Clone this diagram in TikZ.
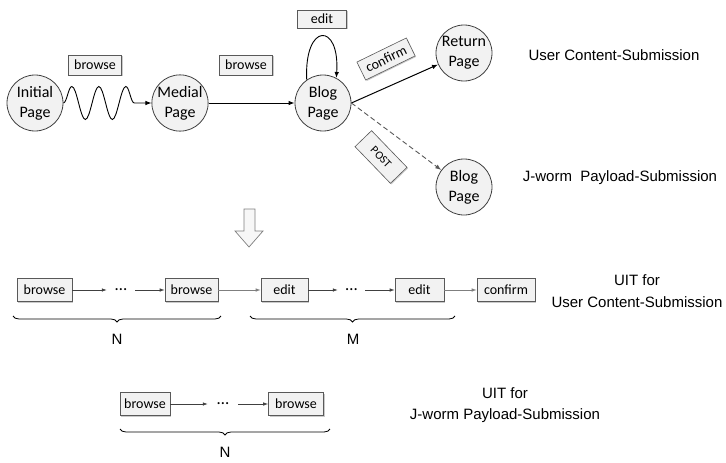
\documentclass[tikz,border=0pt]{standalone}
\usepackage{fontspec}
\setmainfont{Carlito}
\newfontfamily\arialfont{Liberation Sans}
\usetikzlibrary{arrows.meta,decorations.pathmorphing,decorations.pathreplacing,shadows}

\definecolor{pagefill}{HTML}{F2F2F2}
\definecolor{pageline}{HTML}{404040}
\definecolor{tagline}{HTML}{595959}
\definecolor{thinline}{HTML}{7F7F7F}

\begin{document}
\begin{tikzpicture}[x=1pt,y=-1pt,
  page/.style={circle, draw=pageline, fill=pagefill, line width=0.8pt,
    minimum size=56pt, inner sep=0pt, align=center,
    font=\fontsize{16}{20}\selectfont},
  tag/.style={draw=tagline, fill=pagefill, line width=0.6pt, inner sep=0pt,
    minimum height=20pt, font=\fontsize{14}{16}\selectfont,
    drop shadow={shadow xshift=1pt, shadow yshift=-1pt, opacity=0.35, fill=black!60}},
  stepbox/.style={tag, minimum height=23pt},
  gap/.style={inner sep=0pt, minimum height=12pt, font=\fontsize{17}{17}\selectfont},
  sidetext/.style={font=\arialfont\fontsize{15}{21.5}\selectfont, align=center},
  tip/.style={-{Latex[length=6pt,width=4.5pt]}},
  smalltip/.style={-{Latex[length=5pt,width=3.5pt]}},
  bigbrace/.style={decorate, decoration={brace, amplitude=6pt, mirror}, line width=0.8pt}
]
\useasboundingbox (0,0) rectangle (726,463);

% --- page transition graph ---
\node[page] (init)   at (35,103)  {Initial\\Page};
\node[page] (medial) at (180,103) {Medial\\Page};
\node[page] (blog)   at (323,103) {Blog\\Page};
\node[page] (ret)    at (464,53)  {Return\\Page};
\node[page] (blog2)  at (464,187) {Blog\\Page};

\node[tag, minimum width=53pt] (tb1) at (95,65)  {browse};
\node[tag, minimum width=53pt] (tb2) at (246,65) {browse};
\node[tag, minimum width=49pt, minimum height=18pt] (ted) at (322,19) {edit};
\node[tag, minimum width=55pt, rotate=26] (tcf) at (386,59) {confirm};
\node[tag, minimum width=51pt, minimum height=23pt, rotate=-46,
      font=\fontsize{11.5}{13}\selectfont] (tpo) at (381,157) {POST};

\draw[tip, line width=0.9pt, decorate,
      decoration={snake, amplitude=16.5pt, segment length=27pt, post length=4pt}]
  (init.east) -- (medial.west);
\draw[tip, line width=1pt] (medial) -- (blog);
\draw[tip, line width=0.9pt] (blog.125) .. controls (304,22) and (340,22) .. (blog.62);
\draw[tip, line width=1pt] (blog.east) -- (ret);
\draw[tip, line width=0.9pt, draw=black!65, dashed, dash pattern=on 5pt off 3pt]
  (blog.east) -- (blog2);

\node[sidetext] (lu) at (614,55)  {User Content-Submission};
\node[sidetext] (lj) at (620,178) {J-worm\ \ Payload-Submission};

% hollow arrow pointing down
\draw[thinline, fill=black!3, line width=0.7pt]
  (244,209) -- (255,209) -- (255,231) -- (263,231) -- (249,247) -- (235,231) -- (244,231) -- cycle;

% --- interaction trace for user submission ---
\node[stepbox, minimum width=55pt] (r1b1) at (44.5,290)  {browse};
\node[gap, minimum width=28pt]     (r1d1) at (121,290)   {…};
\node[stepbox, minimum width=53pt] (r1b2) at (191.5,290) {browse};
\node[stepbox, minimum width=47pt] (r1e1) at (284.5,290) {edit};
\node[gap, minimum width=27pt]     (r1d2) at (351.5,290) {…};
\node[stepbox, minimum width=49pt] (r1e2) at (419.5,290) {edit};
\node[stepbox, minimum width=58pt] (r1c)  at (506,290)   {confirm};

\draw[smalltip, pageline, line width=0.7pt] (r1b1) -- (r1d1);
\draw[smalltip, pageline, line width=0.7pt] (r1d1) -- (r1b2);
\draw[smalltip, thinline, line width=0.7pt] (r1b2) -- (r1e1);
\draw[smalltip, pageline, line width=0.7pt] (r1e1) -- (r1d2);
\draw[smalltip, pageline, line width=0.7pt] (r1d2) -- (r1e2);
\draw[smalltip, thinline, line width=0.7pt] (r1e2) -- (r1c);

\coordinate (n1a) at (13,316);  \coordinate (n1b) at (221,316);
\coordinate (m1a) at (250,316); \coordinate (m1b) at (455,316);
\draw[bigbrace] (n1a) -- (n1b);
\draw[bigbrace] (m1a) -- (m1b);
\node[sidetext] (n1) at (117,339) {N};
\node[sidetext] (m1) at (353,339) {M};

\node[sidetext] (u1) at (637,291) {UIT for\\User Content-Submission};

% --- interaction trace for worm submission ---
\node[stepbox, minimum width=50pt] (r2b1) at (145,404) {browse};
\node[gap, minimum width=30pt]     (r2d)  at (223,404) {…};
\node[stepbox, minimum width=55pt] (r2b2) at (296,404) {browse};
\draw[smalltip, pageline, line width=0.7pt] (r2b1) -- (r2d);
\draw[smalltip, pageline, line width=0.7pt] (r2d) -- (r2b2);

\coordinate (n2a) at (120,429); \coordinate (n2b) at (330,429);
\draw[bigbrace] (n2a) -- (n2b);
\node[sidetext] (n2) at (225,452) {N};

\node[sidetext] (u2) at (505,405) {UIT for\\J-worm Payload-Submission};
\end{tikzpicture}
\end{document}
